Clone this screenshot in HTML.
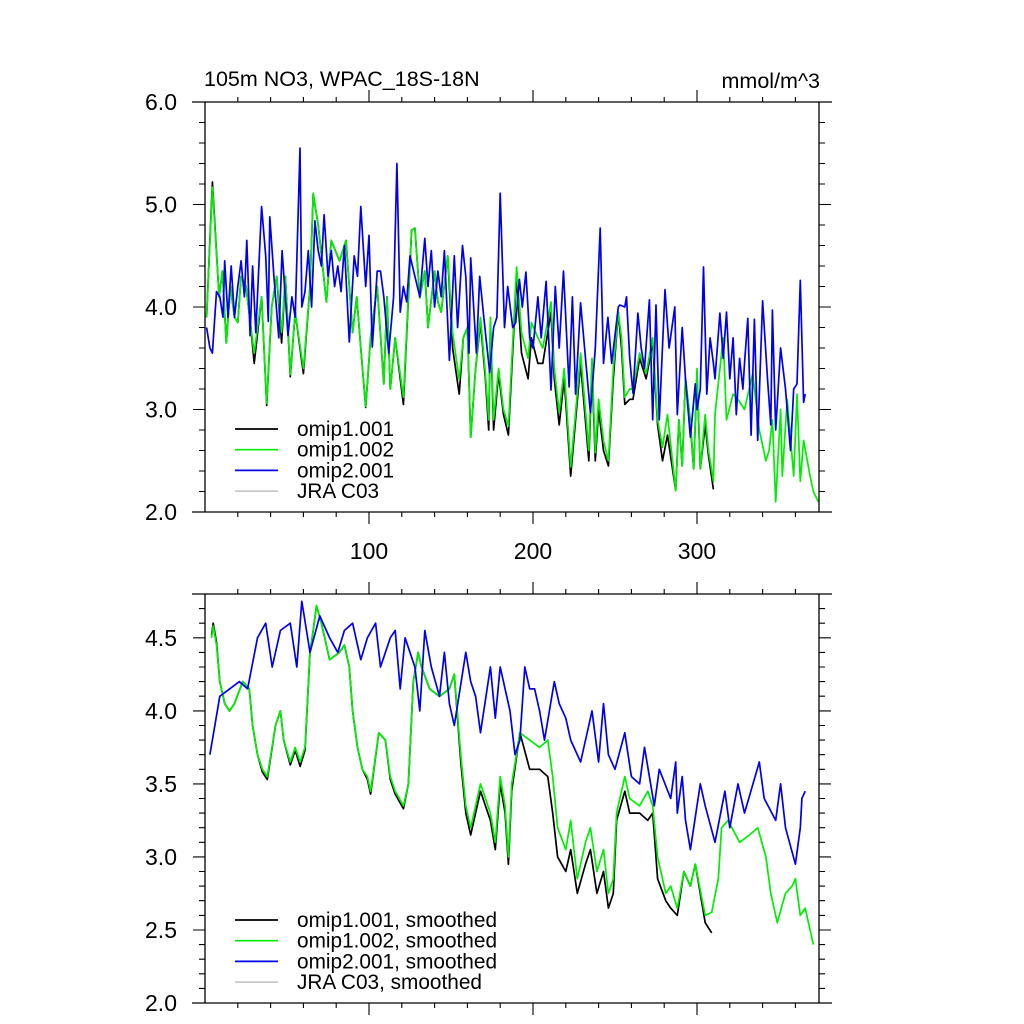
<!DOCTYPE html>
<html><head><meta charset="utf-8"><style>
body{margin:0;background:#fff}
svg{display:block;font-family:"Liberation Sans",sans-serif}
</style></head><body>
<svg id="chart" width="1024" height="1024" viewBox="0 0 1024 1024" xmlns="http://www.w3.org/2000/svg">
<rect width="1024" height="1024" fill="#fff"/>
<text x="204" y="86" font-size="21.5">105m NO3, WPAC_18S-18N</text>
<text x="820" y="88" font-size="21.5" text-anchor="end">mmol/m^3</text>
<g id="top"></g>
<g id="bot"></g>
</svg>
<script>
// ---- top panel data (raw monthly) ----
const greenTopX=[1,4.5,8.6,10.6,13,15.5,18,20,22,25,28,30,34.5,37.6,40.7,43.7,46.7,49,52,55,60,64,66,69,74,77,82,86,90,92.5,95,98,101,105,109,111,113,116,121,126,128,131,134,136,140,142,144,148,151,155,157.5,160,162,165,168,171,173,174,176,179,182,185,190,193,197,199,203,206,211,213,216,219,223,226,229,234,236,238,240,243,246,249,252,254,256,259,261,265,269,273,276,279,282,287,289,291,293,296,298,300,302,305,307,310,311,316,318,322,325,329,334,338,342,344,346,348,351,352,355,359,361,363,365,369,371,374];
const greenTopY=[3.9,5.17,4.1,4.35,3.65,4.2,3.9,3.85,4.3,4.2,3.8,3.55,4.1,3.06,4.0,4.3,3.75,4.3,3.34,3.95,3.4,4.2,5.11,4.8,4.05,4.65,4.45,4.65,3.75,4.1,3.6,3.03,3.7,4.2,3.25,4.1,3.2,3.7,3.12,4.75,4.77,4.09,4.35,3.8,4.35,4.05,3.95,4.5,3.75,3.29,3.7,3.8,2.73,3.4,3.9,3.35,2.9,3.9,2.9,3.4,3.0,2.84,4.39,3.75,3.5,3.85,3.7,3.6,4.05,3.4,2.97,3.4,2.44,2.97,3.55,2.6,3.5,2.58,3.1,2.7,2.5,3.4,3.95,3.7,3.12,3.2,3.2,3.55,3.35,3.7,2.9,2.63,2.95,2.21,2.9,2.45,3.3,2.9,2.42,3.4,2.42,2.95,2.6,2.3,2.95,3.7,2.9,3.15,3.1,3.0,3.35,2.8,2.5,2.6,2.9,2.1,3.0,2.35,3.1,2.35,3.15,2.3,2.7,2.35,2.2,2.1];
const blackTopX=[1,4.5,8.6,10.6,13,15.5,18,20,22,25,28,30,34.5,37.6,40.7,43.7,46.7,49,52,55,60,64,66,69,74,77,82,86,90,92.5,95,98,101,105,109,111,113,116,121,126,128,131,134,136,140,142,144,148,151,155,157.5,160,162,165,168,171,173,174,176,179,182,185,190,193,197,199,203,206,211,213,216,219,223,226,229,234,236,238,240,243,246,249,252,254,256,259,261,265,269,273,276,279,282,287,289,291,293,296,298,300,302,305,307,310];
const blackTopY=[3.9,5.22,4.1,4.35,3.65,4.2,3.9,3.85,4.3,4.2,3.8,3.45,4.1,3.04,4.0,4.3,3.65,4.3,3.32,3.95,3.35,4.2,5.1,4.8,4.05,4.65,4.45,4.65,3.75,4.1,3.6,3.02,3.7,4.2,3.25,4.1,3.2,3.7,3.05,4.75,4.77,4.09,4.35,3.8,4.35,4.05,3.95,4.5,3.6,3.15,3.7,3.8,2.73,3.4,3.85,3.3,2.8,3.85,2.8,3.35,2.95,2.75,4.3,3.55,3.3,3.7,3.45,3.45,3.95,3.3,2.85,3.3,2.35,2.9,3.45,2.5,3.4,2.5,3.0,2.6,2.45,3.3,3.95,3.6,3.05,3.1,3.1,3.5,3.3,3.65,2.85,2.5,2.75,2.21,2.9,2.45,3.3,2.85,2.42,3.35,2.42,2.85,2.55,2.22];
const blueTopX=[1,3,4.5,7,9,11,12,14,16,18,20,22,24,25.5,27.5,29,31,34.5,37,38.6,39.5,42,45,47,50.6,53,55,57.9,59,61,63,65,67,69,71,72.6,75,77,79,81,83,85,88,91,93,95,98,100,102,105,107,109,112,115,117,119,121,123,125,128,131,134,136,138,140,142,144,146,149,152,154,157,159,161,162,165.5,167.5,170,173.6,176,178,180,182.6,184.6,187.6,189.5,191.7,193.5,195.7,198,200,203,205,208,211,213.6,216,218.6,222,224,226,229,232,235,238,241,243,245.7,248,252,253,256,257,259,261,264,266,268,271,273,275,277,280.5,283,286.5,288,291,293,296,299,300,302,304,306,308,310,311,314,316,318,320,322,324,326,328,329,331,333,335,337,340,343,345,346,348,351,354,357,359,361,363,365,366];
const blueTopY=[3.8,3.6,3.55,4.15,4.1,3.9,4.45,3.9,4.4,3.9,4.2,4.45,4.1,4.65,3.72,4.4,3.75,4.98,4.5,3.86,4.88,4.3,3.7,4.55,3.72,4.1,3.9,5.55,4.0,4.15,4.55,4.0,4.84,4.55,4.4,4.9,4.3,4.55,4.2,4.4,4.15,4.6,3.66,4.5,4.3,4.98,4.2,4.7,3.61,4.35,4.35,4.1,3.55,4.1,5.4,3.95,4.2,4.05,4.5,4.3,4.1,4.67,4.2,4.55,4.0,4.35,4.1,4.55,3.48,4.5,3.8,4.6,4.3,3.55,4.48,3.55,4.3,3.9,3.36,3.8,3.9,5.11,3.8,4.2,3.8,3.85,4.27,4.0,4.34,3.7,3.6,4.1,3.7,4.25,3.19,4.2,3.6,4.35,3.22,4.1,3.15,4.04,3.5,2.97,3.6,4.77,3.45,3.9,3.45,4.0,4.02,4.0,4.1,3.5,3.16,3.94,3.6,3.4,4.07,2.9,4.02,2.9,4.17,3.6,4.0,2.95,3.8,3.3,2.73,3.25,3.0,3.2,4.39,3.15,3.7,3.45,3.3,3.94,3.5,3.95,3.3,3.7,2.95,3.5,3.2,3.45,3.89,2.75,3.88,2.7,4.06,3.3,2.85,3.97,2.8,3.6,3.2,2.6,3.2,3.25,4.26,3.07,3.15];
// ---- bottom panel data (smoothed) ----
const greenSmX=[4,5,7,9,12,15,18,23,27,29,32,35,38,43,46,48,52,55,58,61,64,66,68,71,73,76,82,85,88,90,93,96,99,101,106,110,113,116,121,124,127,130,132,137,143,149,152,156,159,162,168,174,177,180,183,185,187,192,198,204,209,212,215,220,223,227,232,235,239,243,246,249,251,256,259,265,270,273,276,281,284,288,292,296,299,305,309,313,315,319,326,332,337,342,345,349,354,358,360,363,366,369,371];
const greenSmY=[4.5,4.58,4.45,4.2,4.05,4.0,4.05,4.2,4.15,3.9,3.7,3.6,3.55,3.9,4.0,3.8,3.65,3.75,3.65,3.75,4.4,4.55,4.72,4.6,4.5,4.35,4.4,4.45,4.3,4.0,3.75,3.6,3.55,3.45,3.85,3.8,3.55,3.45,3.35,3.5,4.2,4.4,4.3,4.15,4.1,4.15,4.25,3.7,3.35,3.2,3.5,3.3,3.1,3.55,3.35,3.0,3.5,3.85,3.8,3.75,3.8,3.55,3.2,3.05,3.25,2.85,3.1,3.2,2.9,3.05,2.75,2.85,3.3,3.55,3.4,3.35,3.45,3.35,3.0,2.75,2.8,2.65,2.9,2.8,2.95,2.6,2.62,2.85,3.2,3.25,3.1,3.15,3.2,3.0,2.75,2.55,2.75,2.8,2.85,2.6,2.65,2.5,2.4];
const blackSmX=[4,5,7,9,12,15,18,23,27,29,32,35,38,43,46,48,52,55,58,61,64,66,68,71,73,76,82,85,88,90,93,96,99,101,106,110,113,116,121,124,127,130,132,137,143,149,152,156,159,162,168,174,177,180,183,185,187,192,198,204,209,212,215,220,223,227,232,235,239,243,246,249,251,256,259,265,270,273,276,281,284,288,292,296,299,305,309];
const blackSmY=[4.52,4.6,4.47,4.2,4.05,4.0,4.05,4.2,4.15,3.9,3.7,3.58,3.53,3.9,4.0,3.8,3.63,3.73,3.62,3.73,4.4,4.55,4.72,4.6,4.5,4.35,4.4,4.45,4.3,4.0,3.75,3.6,3.53,3.43,3.85,3.8,3.53,3.43,3.33,3.5,4.2,4.4,4.3,4.15,4.1,4.15,4.25,3.65,3.3,3.15,3.45,3.25,3.05,3.5,3.3,2.95,3.45,3.85,3.6,3.6,3.55,3.3,3.0,2.9,3.05,2.75,2.95,3.05,2.75,2.9,2.65,2.75,3.25,3.45,3.3,3.3,3.25,3.3,2.85,2.7,2.65,2.6,2.9,2.8,2.95,2.55,2.48];
const blueSmX=[3,9,15,21,26,32,37,41,46,52,56,59,64,70,76,81,85,90,95,99,104,107,113,116,119,122,128,131,134,138,143,146,149,152,159,162,165,168,174,177,180,186,189,192,195,198,201,204,207,213,216,220,223,229,234,236,240,243,246,250,256,260,265,268,274,277,284,287,288,291,293,296,302,305,311,317,320,325,329,338,341,348,351,354,360,363,364,366];
const blueSmY=[3.7,4.1,4.15,4.2,4.15,4.5,4.6,4.3,4.55,4.6,4.3,4.75,4.4,4.65,4.5,4.4,4.55,4.6,4.35,4.5,4.6,4.3,4.5,4.55,4.15,4.5,4.3,4.0,4.55,4.3,4.1,4.4,4.05,3.9,4.4,4.2,4.1,3.85,4.3,3.95,4.3,4.0,3.7,3.8,4.3,4.15,4.15,4.0,3.8,4.2,4.05,3.95,3.8,3.65,3.9,4.0,3.65,4.05,3.7,3.6,3.85,3.55,3.5,3.75,3.35,3.6,3.4,3.65,3.3,3.55,3.25,3.05,3.5,3.35,3.1,3.45,3.2,3.5,3.3,3.65,3.4,3.25,3.5,3.2,2.95,3.2,3.4,3.45];
const topYTicks=["2.0","3.0","4.0","5.0","6.0"];
const botYTicks=["2.0","2.5","3.0","3.5","4.0","4.5"];
const xTickLabels=["100","200","300"];
const legendTop=["omip1.001","omip1.002","omip2.001","JRA C03"];
const legendBot=["omip1.001, smoothed","omip1.002, smoothed","omip2.001, smoothed","JRA C03, smoothed"];
const legendColors=["#000","#00ee00","#0000ee","#c8c8c8"];

const NS="http://www.w3.org/2000/svg";
const X0=205,X1=819,XMIN=0,XMAX=374.4;
function sx(v){return X0+(v-XMIN)/(XMAX-XMIN)*(X1-X0);}
function mk(tag,attrs,parent){const e=document.createElementNS(NS,tag);for(const k in attrs)e.setAttribute(k,attrs[k]);parent.appendChild(e);return e;}

function panel(g,top,bot,ymin,ymax,major,minor,ylabels,showX,legend,series,legTop){
  const sy=v=>bot-(v-ymin)/(ymax-ymin)*(bot-top);
  series.forEach(s=>{
    let d="";const n=Math.min(s.x.length,s.y.length);
    for(let i=0;i<n;i++)d+=(i?"L":"M")+sx(s.x[i]).toFixed(1)+","+sy(s.y[i]).toFixed(1);
    const p=mk("path",{d:d,fill:"none",stroke:s.c,"stroke-width":"1.7","stroke-linejoin":"round"},g);
    
    
  });
  const f=mk("path",{d:`M192,${top}H832M192,${bot}H832M${X0},${top}V${bot}M${X1},${top}V${bot}`,stroke:"#000","stroke-width":"1.3",fill:"none"},g);
  
  
  let td="";
  for(let v=ymin;v<=ymax+1e-6;v+=minor){
    const isMaj=Math.abs(v/major-Math.round(v/major))<1e-6;const L=isMaj?12:6;const y=sy(v).toFixed(1);
    td+=`M${X0},${y}H${X0-L}M${X1},${y}H${X1+L}`;
  }
  for(let v=20;v<XMAX;v+=20){
    const isMaj=v%100===0;const L=isMaj?12:5;const x=sx(v).toFixed(1);
    td+=`M${x},${top}V${top-L}M${x},${bot}V${bot+L}`;
  }
  const t=mk("path",{d:td,stroke:"#000","stroke-width":"1.1",fill:"none"},g);
  
  
  ylabels.forEach(l=>{
    const e=mk("text",{x:177,y:sy(parseFloat(l))+8,"font-size":"23","text-anchor":"end"},g);
    e.textContent=l;
    
    
  });
  if(showX)xTickLabels.forEach(l=>{
    const e=mk("text",{x:sx(parseFloat(l)),y:bot+47,"font-size":"23","text-anchor":"middle"},g);
    e.textContent=l;
    
    
  });
  legend.forEach((l,i)=>{
    const y=legTop+i*20.7;
    const ln=mk("line",{x1:235,x2:278,y1:y,y2:y,stroke:legendColors[i],"stroke-width":"1.7"},g);
    
    
    const e=mk("text",{x:297,y:y+7,"font-size":"20.8"},g);
    e.textContent=l;
    
    
  });
}
panel(document.getElementById("top"),102,512,2,6,1,0.2,topYTicks,true,legendTop,[
  {x:blackTopX,y:blackTopY,c:"#000",name:"omip1-001-line"},
  {x:greenTopX,y:greenTopY,c:"#00ee00",name:"omip1-002-line"},
  {x:blueTopX,y:blueTopY,c:"#0000ee",name:"omip2-001-line"}],429);
panel(document.getElementById("bot"),594,1003,2,4.8,0.5,0.1,botYTicks,false,legendBot,[
  {x:blackSmX,y:blackSmY,c:"#000",name:"omip1-001-smoothed-line"},
  {x:greenSmX,y:greenSmY,c:"#00ee00",name:"omip1-002-smoothed-line"},
  {x:blueSmX,y:blueSmY,c:"#0000ee",name:"omip2-001-smoothed-line"}],920);
</script>
</body></html>
